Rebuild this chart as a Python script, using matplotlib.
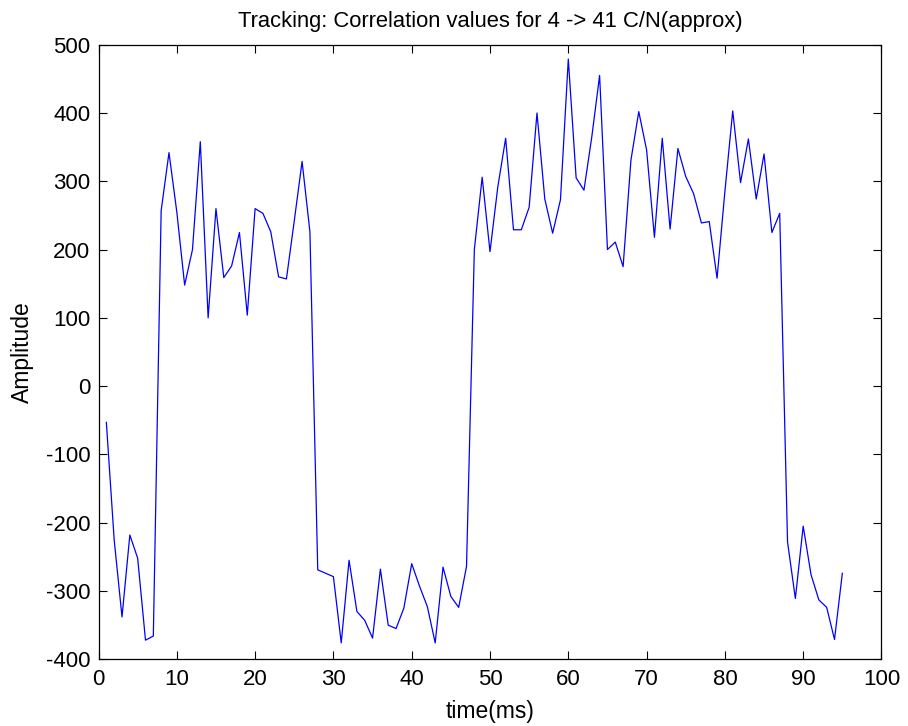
import matplotlib
matplotlib.use('Agg')
import matplotlib.pyplot as plt
import numpy as np

# time axis (ms) and correlation amplitude
time_ms = np.arange(1, 96)
amplitude = [
    -53, -225, -338, -218, -252, -372, -366, 257, 342, 255,
    148, 200, 358, 100, 260, 159, 176, 225, 104, 260,
    253, 226, 160, 157, 242, 329, 226, -269, -274, -279,
    -376, -255, -330, -343, -369, -268, -350, -355, -325, -260,
    -293, -323, -376, -265, -308, -324, -264, 200, 306, 197,
    292, 363, 229, 229, 262, 400, 274, 224, 273, 479,
    305, 287, 365, 455, 200, 211, 175, 331, 402, 346,
    218, 363, 230, 348, 307, 282, 239, 241, 158, 285,
    403, 298, 362, 274, 340, 225, 253, -228, -311, -205,
    -276, -313, -324, -371, -274,
]
x_ticks = list(range(0, 101, 10))
y_ticks = list(range(-400, 501, 100))

plt.rcParams['font.family'] = ['Liberation Sans', 'DejaVu Sans']
plt.rcParams['axes.unicode_minus'] = False

fig = plt.figure(figsize=(9.08, 7.26), dpi=100)
ax = fig.add_axes([0.1085, 0.0919, 0.8623, 0.8465])

ax.plot(time_ms, amplitude, color='#0000ff', lw=0.9)

ax.set_xlim(0, 100)
ax.set_ylim(-400, 500)
ax.set_xticks(x_ticks)
ax.set_yticks(y_ticks)
ax.tick_params(direction='in', length=6, width=0.8, top=True, right=True,
               labelsize=16)
ax.tick_params(axis='y', pad=6)
ax.tick_params(axis='x', pad=7)
for s in ax.spines.values():
    s.set_linewidth(0.9)

ax.set_title('Tracking: Correlation values for 4 -> 41 C/N(approx)', fontsize=15.8, pad=13)
ax.set_xlabel('time(ms)', fontsize=16.5, labelpad=7)
ax.set_ylabel('Amplitude', fontsize=16.5, labelpad=8)

fig.savefig('out.png', dpi=100)
